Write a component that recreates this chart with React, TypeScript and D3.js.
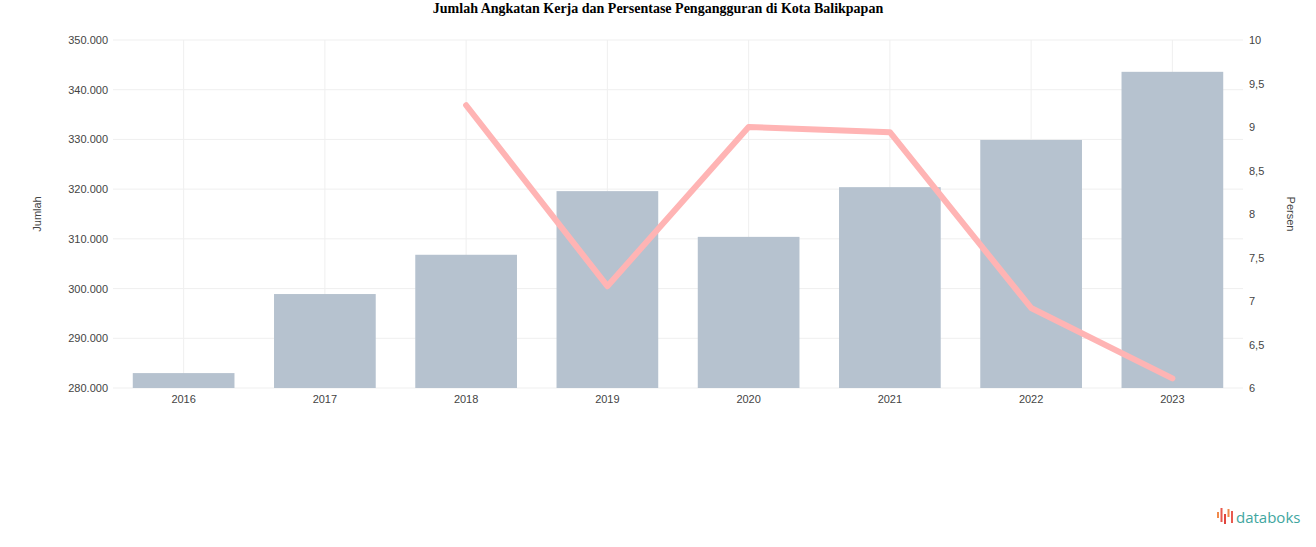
import React from "react";
import * as d3 from "d3";

const years = ["2016", "2017", "2018", "2019", "2020", "2021", "2022", "2023"];
const laborForce = [283000, 298900, 306800, 319600, 310400, 320400, 329900, 343600];
const unemploymentYears = ["2018", "2019", "2020", "2021", "2022", "2023"];
const unemploymentRate = [9.25, 7.17, 9.0, 8.94, 6.92, 6.11];
const leftTicks = [280000, 290000, 300000, 310000, 320000, 330000, 340000, 350000];
const rightTicks = [6, 6.5, 7, 7.5, 8, 8.5, 9, 9.5, 10];

const W = 1316;
const H = 547;
const left = 113;
const right = 1243;
const top = 40;
const bottom = 388;

export default function App() {
  const x = d3.scaleBand<string>().domain(years).range([left, right]).paddingInner(0.28).paddingOuter(0.14);
  const yL = d3.scaleLinear().domain([280000, 350000]).range([bottom, top]);
  const yR = d3.scaleLinear().domain([6, 10]).range([bottom, top]);
  const fmtL = (v: number) => d3.format(",")(v).replace(/,/g, ".");
  const fmtR = (v: number) => String(v).replace(".", ",");
  const line = d3
    .line<number>()
    .x((_, i) => (x(unemploymentYears[i]) as number) + x.bandwidth() / 2)
    .y((d) => yR(d));
  const font = "'Liberation Sans', Arial, sans-serif";
  const labelColor = "#444";
  return (
    <svg width={W} height={H} style={{ position: "absolute", left: 0, top: 0, display: "block" }}>
      <rect x={0} y={0} width={W} height={H} fill="#ffffff" />
      <text x={658} y={13} textAnchor="middle" fontFamily="'Liberation Serif', 'Times New Roman', serif" fontWeight="bold" fontSize={14} fill="#000">
        Jumlah Angkatan Kerja dan Persentase Pengangguran di Kota Balikpapan
      </text>
      {leftTicks.map((t) => (
        <line key={"h" + t} x1={left} x2={right} y1={yL(t)} y2={yL(t)} stroke="#efefef" strokeWidth={1} />
      ))}
      {years.map((yr) => (
        <line key={"v" + yr} x1={(x(yr) as number) + x.bandwidth() / 2} x2={(x(yr) as number) + x.bandwidth() / 2} y1={top} y2={bottom} stroke="#efefef" strokeWidth={1} />
      ))}
      {years.map((yr, i) => (
        <rect key={"b" + yr} x={x(yr)} y={yL(laborForce[i])} width={x.bandwidth()} height={bottom - yL(laborForce[i])} fill="#b6c2cf" />
      ))}
      <path d={line(unemploymentRate) || ""} fill="none" stroke="#ffb4b4" strokeWidth={6} strokeLinejoin="round" strokeLinecap="round" />
      {leftTicks.map((t) => (
        <text key={"lt" + t} x={108} y={yL(t) + 4} textAnchor="end" fontFamily={font} fontSize={11} fill={labelColor}>
          {fmtL(t)}
        </text>
      ))}
      {rightTicks.map((t) => (
        <text key={"rt" + t} x={1249} y={yR(t) + 4} textAnchor="start" fontFamily={font} fontSize={11} fill={labelColor}>
          {fmtR(t)}
        </text>
      ))}
      {years.map((yr) => (
        <text key={"xt" + yr} x={(x(yr) as number) + x.bandwidth() / 2} y={403} textAnchor="middle" fontFamily={font} fontSize={11} fill={labelColor}>
          {yr}
        </text>
      ))}
      <text transform="translate(41,214) rotate(-90)" textAnchor="middle" fontFamily={font} fontSize={11} fill={labelColor}>
        Jumlah
      </text>
      <text transform="translate(1287,214) rotate(90)" textAnchor="middle" fontFamily={font} fontSize={11} fill={labelColor}>
        Persen
      </text>
      <g>
        <rect x={1217} y={512} width={2} height={6} fill="#f08a4b" />
        <rect x={1220.5} y={508} width={2} height={14} fill="#e85a4f" />
        <rect x={1224} y={514} width={2} height={10} fill="#e0463f" />
        <rect x={1227.5} y={509} width={2} height={8} fill="#f08a4b" />
        <rect x={1231} y={511} width={2} height={12} fill="#e85a4f" />
        <text x={1236} y={523} fontFamily="'Open Sans', 'Noto Sans', sans-serif" fontSize={15} fill="#3fa6a0">
          databoks
        </text>
      </g>
    </svg>
  );
}
